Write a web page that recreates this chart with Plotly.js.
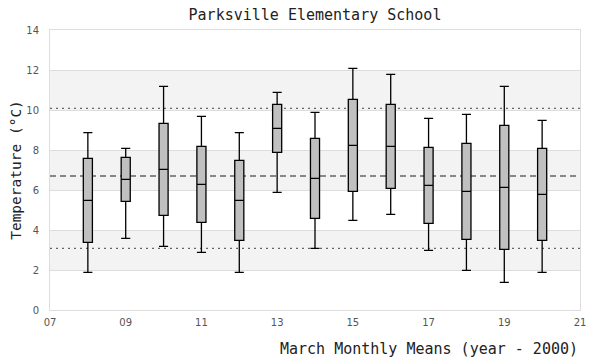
<!DOCTYPE html>
<html><head><meta charset="utf-8">
<script src="https://cdn.plot.ly/plotly-3.0.1.min.js"></script>
<style>html,body{margin:0;padding:0;background:#fff}</style>
</head><body>
<div id="chart" style="width:600px;height:360px"></div>
<script>
var years = [8, 9, 10, 11, 12, 13, 14, 15, 16, 17, 18, 19, 20];
var minVals = [1.88, 3.58, 3.18, 2.88, 1.88, 5.88, 3.08, 4.48, 4.78, 2.98, 1.98, 1.38, 1.88];
var q1Vals = [3.38, 5.43, 4.73, 4.38, 3.48, 7.88, 4.58, 5.93, 6.08, 4.33, 3.53, 3.03, 3.48];
var medianVals = [5.48, 6.53, 7.03, 6.28, 5.48, 9.08, 6.58, 8.23, 8.18, 6.23, 5.93, 6.13, 5.78];
var q3Vals = [7.58, 7.63, 9.33, 8.18, 7.48, 10.28, 8.58, 10.53, 10.28, 8.13, 8.33, 9.23, 8.08];
var maxVals = [8.87, 8.08, 11.18, 9.68, 8.87, 10.88, 9.88, 12.08, 11.78, 9.58, 9.78, 11.18, 9.48];
var meanLine = 6.70;
var sdLines = [3.08, 10.08];
var bandStarts = [2, 6, 10];
var bandWidth = 2;
var xTickVals = [7, 9, 11, 13, 15, 17, 19, 21];
var xTickText = ["07", "09", "11", "13", "15", "17", "19", "21"];

var MONO = "DejaVu Sans Mono, Liberation Mono, monospace";
var SANS = "DejaVu Sans, sans-serif";

var shapes = [];
bandStarts.forEach(function (b) {
  shapes.push({type: "rect", xref: "paper", yref: "y", x0: 0, x1: 1, y0: b, y1: b + bandWidth,
    fillcolor: "#f3f3f3", line: {width: 0}, layer: "below"});
});
sdLines.forEach(function (v) {
  shapes.push({type: "line", xref: "paper", yref: "y", x0: 0, x1: 1, y0: v, y1: v,
    line: {color: "#666", width: 1.3, dash: "2px,4px"}, layer: "below"});
});
shapes.push({type: "line", xref: "paper", yref: "y", x0: 0, x1: 1, y0: meanLine, y1: meanLine,
  line: {color: "#666", width: 1.3, dash: "6px,4px"}, layer: "below"});

var trace = {
  type: "box",
  x: years,
  q1: q1Vals,
  median: medianVals,
  q3: q3Vals,
  lowerfence: minVals,
  upperfence: maxVals,
  width: 0.24,
  whiskerwidth: 1,
  fillcolor: "#c0c0c0",
  line: {color: "#000", width: 1.3},
  boxpoints: false,
  hoverinfo: "skip",
  showlegend: false
};

var layout = {
  width: 600, height: 360,
  margin: {l: 50, r: 20, t: 30, b: 50},
  paper_bgcolor: "#fff", plot_bgcolor: "rgba(0,0,0,0)",
  font: {family: SANS, color: "#555", size: 10},
  title: {text: "Parksville Elementary School", x: 0.5, xref: "paper", xanchor: "center", y: 0.975, yanchor: "top",
    font: {family: MONO, size: 15, color: "#222"}},
  xaxis: {range: [7, 21], tickvals: xTickVals, ticktext: xTickText, showgrid: false, zeroline: false,
    showline: true, mirror: true, linecolor: "#ddd", linewidth: 1, ticks: "", ticklabelstandoff: 3,
    tickfont: {family: SANS, size: 10, color: "#555"}},
  yaxis: {range: [0, 14], dtick: 2, tick0: 0, showgrid: true, gridcolor: "#dddddd", gridwidth: 1,
    zeroline: false, showline: true, mirror: true, linecolor: "#ddd", linewidth: 1, ticks: "",
    ticklabelstandoff: 8,
    tickfont: {family: SANS, size: 10, color: "#555"},
    title: {text: "Temperature (°C)", standoff: 1, font: {family: MONO, size: 14.5, color: "#222"}}},
  shapes: shapes,
  annotations: [{text: "March Monthly Means (year - 2000)", xref: "paper", yref: "paper", x: 1, y: 0,
    xanchor: "right", yanchor: "top", yshift: -28, showarrow: false,
    font: {family: MONO, size: 15, color: "#222"}}]
};

Plotly.newPlot("chart", [trace], layout, {displayModeBar: false, staticPlot: true});
</script>
</body></html>
